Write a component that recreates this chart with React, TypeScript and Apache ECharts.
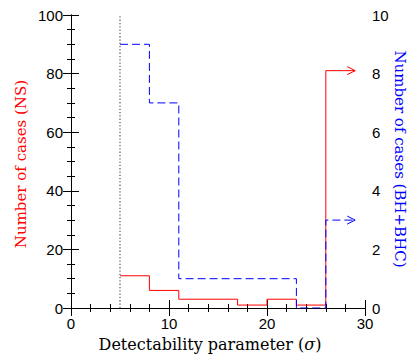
import React, { useEffect, useRef } from "react";
import * as echarts from "echarts";

// Red histogram: Neutron stars (left axis)
const nsEdges = [5, 8, 11, 17, 20, 23, 26];
const nsCounts = [11, 6, 3, 1, 3, 1];
const nsOverflow = 81; // arrow at right
// Blue histogram: BH + BHC (right axis)
const bhEdges = [5, 8, 11, 23, 26];
const bhCounts = [9, 7, 1, 0];
const bhOverflow = 3;
const arrowEndX = 29;
const thresholdX = 5;

const xTicks = [0, 10, 20, 30];
const leftTicks = [0, 20, 40, 60, 80, 100];
const rightTicks = [0, 2, 4, 6, 8, 10];

function stepPoints(edges: number[], counts: number[], overflow: number, endX: number) {
  const pts: number[][] = [];
  for (let i = 0; i < counts.length; i++) {
    pts.push([edges[i], counts[i]]);
    pts.push([edges[i + 1], counts[i]]);
  }
  const last = edges[edges.length - 1];
  pts.push([last, overflow]);
  pts.push([endX, overflow]);
  return pts;
}

const FONT = "DejaVu Serif";
const TICKFONT = "Liberation Sans";
const TICK = { show: true, inside: true, length: 8, lineStyle: { color: "#000", width: 1 } };
const MINOR = { show: true, length: 4, lineStyle: { color: "#000", width: 1 } };

export default function App() {
  const ref = useRef<HTMLDivElement>(null);
  useEffect(() => {
    if (!ref.current) return;
    const chart = echarts.init(ref.current, null, { renderer: "svg" });
    const redPts = stepPoints(nsEdges, nsCounts, nsOverflow, arrowEndX);
    const bluePts = stepPoints(bhEdges, bhCounts, bhOverflow, arrowEndX);
    const arrowHead = (color: string) => (params: any, api: any) => {
      const p = api.coord([api.value(0), api.value(1)]);
      return {
        type: "polyline",
        shape: { points: [[p[0] - 8, p[1] - 4], [p[0], p[1]], [p[0] - 8, p[1] + 4]] },
        style: { stroke: color, fill: "none", lineWidth: 1 },
      };
    };
    const xMin = xTicks[0];
    const xMax = xTicks[xTicks.length - 1];
    const tickLabel = { color: "#000", fontFamily: TICKFONT, fontSize: 15 };
    chart.setOption({
      animation: false,
      backgroundColor: "#ffffff",
      grid: { left: 71, right: 46, top: 15, bottom: 50, containLabel: false },
      xAxis: [
        {
          type: "value",
          min: xMin,
          max: xMax,
          interval: xTicks[1] - xTicks[0],
          position: "bottom",
          axisLine: { lineStyle: { color: "#000", width: 1 } },
          axisTick: TICK,
          minorTick: { ...MINOR, splitNumber: 5 },
          axisLabel: { ...tickLabel, margin: 8 },
          splitLine: { show: false },
        },
        {
          type: "value",
          min: xMin,
          max: xMax,
          interval: xTicks[1] - xTicks[0],
          position: "top",
          axisLine: { lineStyle: { color: "#000", width: 1 } },
          axisTick: TICK,
          minorTick: { ...MINOR, splitNumber: 5 },
          axisLabel: { show: false },
          splitLine: { show: false },
        },
      ],
      yAxis: [
        {
          type: "value",
          min: leftTicks[0],
          max: leftTicks[leftTicks.length - 1],
          interval: leftTicks[1] - leftTicks[0],
          position: "left",
          axisLine: { show: true, lineStyle: { color: "#000", width: 1 } },
          axisTick: TICK,
          minorTick: { ...MINOR, splitNumber: 4 },
          axisLabel: { ...tickLabel, margin: 8 },
          splitLine: { show: false },
        },
        {
          type: "value",
          min: rightTicks[0],
          max: rightTicks[rightTicks.length - 1],
          interval: rightTicks[1] - rightTicks[0],
          position: "right",
          axisLine: { show: true, lineStyle: { color: "#000", width: 1 } },
          axisTick: TICK,
          minorTick: { ...MINOR, splitNumber: 4 },
          axisLabel: { ...tickLabel, margin: 7 },
          splitLine: { show: false },
        },
      ],
      series: [
        {
          type: "line",
          name: "threshold",
          xAxisIndex: 0,
          yAxisIndex: 0,
          data: [[thresholdX, leftTicks[0]], [thresholdX, leftTicks[leftTicks.length - 1]]],
          symbol: "none",
          lineStyle: { color: "#666", width: 1.3, type: [1.3, 2] },
          silent: true,
        },
        {
          type: "line",
          name: "NS",
          xAxisIndex: 0,
          yAxisIndex: 0,
          data: redPts,
          symbol: "none",
          lineStyle: { color: "#ff0000", width: 1 },
          z: 3,
        },
        {
          type: "line",
          name: "BH+BHC",
          xAxisIndex: 0,
          yAxisIndex: 1,
          data: bluePts,
          symbol: "none",
          lineStyle: { color: "#0000ff", width: 1, type: [8, 4] },
          z: 4,
        },
        {
          type: "custom",
          xAxisIndex: 0,
          yAxisIndex: 0,
          data: [[arrowEndX, nsOverflow]],
          renderItem: arrowHead("#ff0000"),
          z: 5,
        },
        {
          type: "custom",
          xAxisIndex: 0,
          yAxisIndex: 1,
          data: [[arrowEndX, bhOverflow]],
          renderItem: arrowHead("#0000ff"),
          z: 5,
        },
      ],
      graphic: [
        {
          type: "text",
          x: 210,
          y: 344,
          style: {
            rich: {
              n: { fontFamily: FONT, fontSize: 16, fill: "#000" },
              s: { fontFamily: FONT, fontSize: 16, fontStyle: "italic", fill: "#000" },
            },
            text: "{n|Detectability parameter (}{s|σ}{n|)}",
            align: "center",
            verticalAlign: "middle",
          },
        },
        {
          type: "text",
          x: 21,
          y: 164,
          rotation: Math.PI / 2,
          style: {
            text: "Number of cases (NS)",
            fontFamily: FONT,
            fontSize: 15,
            fill: "#ff0000",
            align: "center",
            verticalAlign: "middle",
          },
        },
        {
          type: "text",
          x: 400,
          y: 159,
          rotation: -Math.PI / 2,
          style: {
            text: "Number of cases (BH+BHC)",
            fontFamily: FONT,
            fontSize: 15,
            fill: "#0000ff",
            align: "center",
            verticalAlign: "middle",
          },
        },
      ],
    });
    return () => chart.dispose();
  }, []);
  return <div ref={ref} style={{ width: 411, height: 358, position: "absolute", left: 0, top: 0 }} />;
}
